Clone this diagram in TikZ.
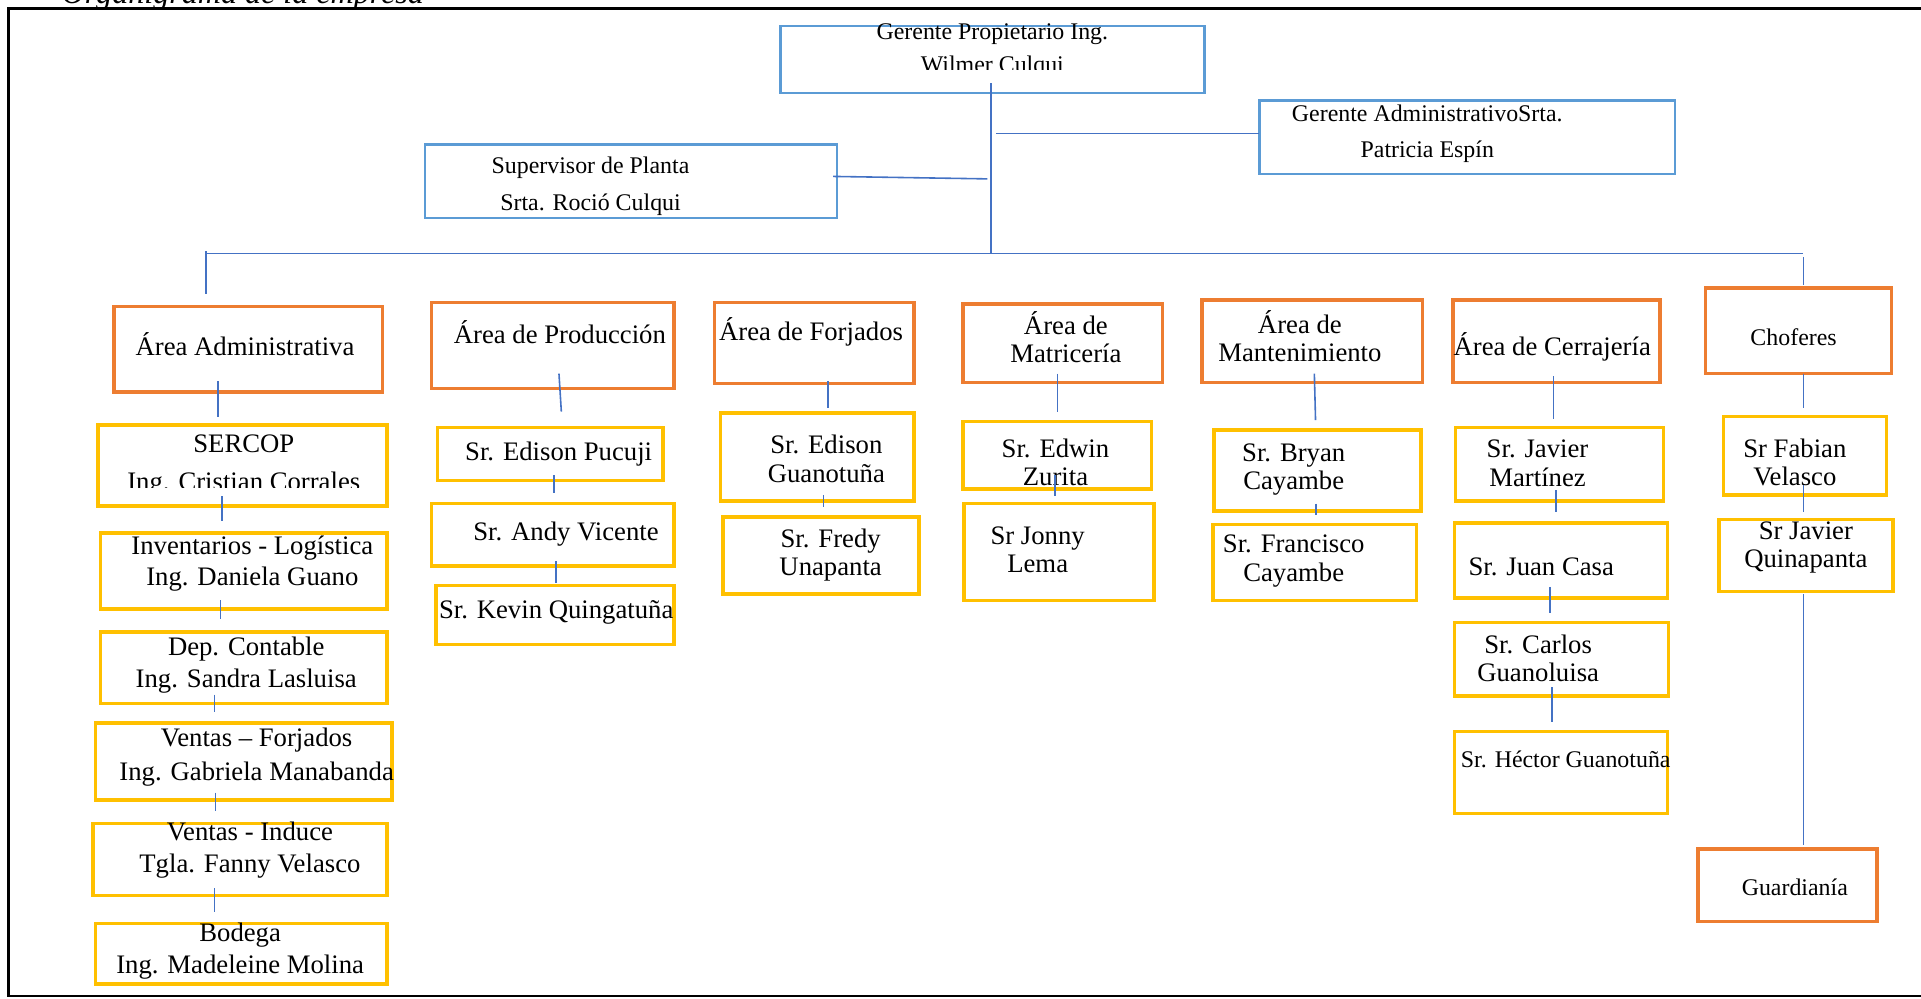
\documentclass[tikz,border=0pt]{standalone}
\usepackage{fontspec}
\setmainfont{Liberation Serif}

\definecolor{azulcaja}{HTML}{5B9BD5}
\definecolor{azullinea}{HTML}{4472C4}
\definecolor{naranja}{HTML}{ED7D31}
\definecolor{amarillo}{HTML}{FFC000}

\tikzset{
	jefe/.style={draw=azulcaja,line width=1pt,inner sep=0pt,outer sep=0pt},
	area/.style={draw=naranja,line width=1.4pt,inner sep=0pt,outer sep=0pt},
	persona/.style={draw=amarillo,line width=1.4pt,inner sep=0pt,outer sep=0pt},
	enlace/.style={draw=azullinea,line width=0.65pt},
	une/.style 2 args={enlace,shorten <=-#1,shorten >=#2},
	txt/.style={font=\fontsize{10.9}{11.5}\selectfont,align=center,inner sep=0pt},
	txtA/.style={font=\fontsize{10.9}{13}\selectfont,align=center,inner sep=0pt},
	txtp/.style={font=\fontsize{9.75}{13.5}\selectfont,align=center,inner sep=0pt}
}

\begin{document}
\begin{tikzpicture}[x=0.5pt,y=-0.5pt]
	\useasboundingbox (0,0) rectangle (1568,815);
	\draw[line width=1pt] (1580,7) -- (7,7) -- (7,813) -- (1580,813);
	\node[anchor=base west,inner sep=0pt,font=\fontsize{13.1}{14}\selectfont\itshape] (titulo) at (50,2.5) {Organigrama de la empresa};
	% cajas de direccion
	\node[jefe,minimum width=173pt,minimum height=27.5pt] (ger) at (810,48.5) {};
	\node[jefe,minimum width=169.5pt,minimum height=30pt] (gadm) at (1197.5,112) {};
	\node[jefe,minimum width=168pt,minimum height=30pt] (sup) at (515,148) {};
	\begin{scope}
		\clip (637,10) rectangle (983,57);
		\node[txtp] (tger) at (810,41) {Gerente Propietario Ing.\\Wilmer Culqui};
	\end{scope}
	\node[txtp,font=\fontsize{9.75}{14.5}\selectfont] (tgadm) at (1165,109) {Gerente AdministrativoSrta.\\Patricia Espín};
	\node[txtp,font=\fontsize{9.75}{15}\selectfont] (tsup) at (482,152) {Supervisor de Planta\\Srta. Roció Culqui};
	% areas
	\node[area,minimum width=109.5pt,minimum height=35pt] (adm) at (202.5,285) {};
	\node[area,minimum width=99pt,minimum height=35pt] (prod) at (451,282) {};
	\node[area,minimum width=81.5pt,minimum height=33pt] (forj) at (664.5,280) {};
	\node[area,minimum width=81.5pt,minimum height=32pt] (matr) at (867.5,280) {};
	\node[area,minimum width=90pt,minimum height=33.5pt] (mant) at (1071,278.5) {};
	\node[area,minimum width=84.5pt,minimum height=33.5pt] (cerr) at (1270.5,278.5) {};
	\node[area,minimum width=76pt,minimum height=35pt] (chof) at (1468,270) {};
	\node[area,minimum width=73pt,minimum height=29.5pt] (guard) at (1459,722.5) {};
	\node[txt] (tadm) at (200,281) {Área Administrativa};
	\node[txt] (tprod) at (457,271) {Área de Producción};
	\node[txt] (tforj) at (662,271) {Área de Forjados};
	\node[txt] (tmatr) at (870,275.5) {Área de\\Matricería};
	\node[txt] (tmant) at (1061,274.5) {Área de\\Mantenimiento};
	\node[txt] (tcerr) at (1267,283) {Área de Cerrajería};
	\node[txtp] (tchof) at (1464,275) {Choferes};
	\node[txtp] (tguard) at (1465,724) {Guardianía};
	% personal
	\node[persona,minimum width=118pt,minimum height=33pt] (sercop) at (198,380) {};
	\node[persona,minimum width=117pt,minimum height=31pt] (inv) at (199,466) {};
	\node[persona,minimum width=117pt,minimum height=29pt] (cont) at (199,545) {};
	\node[persona,minimum width=121pt,minimum height=31.5pt] (vfor) at (199,621.5) {};
	\node[persona,minimum width=120pt,minimum height=29.5pt] (vind) at (196,701.5) {};
	\node[persona,minimum width=119pt,minimum height=24.5pt] (bod) at (197,778.5) {};
	\node[persona,minimum width=92pt,minimum height=21.5pt] (puc) at (449,370.5) {};
	\node[persona,minimum width=99pt,minimum height=25.5pt] (andy) at (451,436.5) {};
	\node[persona,minimum width=97pt,minimum height=24pt] (kev) at (453,502) {};
	\node[persona,minimum width=79pt,minimum height=36pt] (edg) at (667,373) {};
	\node[persona,minimum width=80pt,minimum height=31.5pt] (fre) at (670,453.5) {};
	\node[persona,minimum width=77pt,minimum height=27.5pt] (edw) at (863,371.5) {};
	\node[persona,minimum width=77.5pt,minimum height=39.5pt] (jon) at (864.5,450.5) {};
	\node[persona,minimum width=84.5pt,minimum height=33pt] (bry) at (1075.5,384) {};
	\node[persona,minimum width=83pt,minimum height=31pt] (fra) at (1073,459) {};
	\node[persona,minimum width=85pt,minimum height=30pt] (jav) at (1273,379) {};
	\node[persona,minimum width=87pt,minimum height=30.5pt] (jua) at (1274,457.5) {};
	\node[persona,minimum width=87.5pt,minimum height=30pt] (car) at (1274.5,538) {};
	\node[persona,minimum width=87pt,minimum height=33.5pt] (hec) at (1274,630.5) {};
	\node[persona,minimum width=66.5pt,minimum height=32pt] (fab) at (1473.5,372) {};
	\node[persona,minimum width=71pt,minimum height=29.5pt] (qui) at (1474,453.5) {};
	\begin{scope}
		\clip (80,347) rectangle (316,398);
		\node[txtA,font=\fontsize{10.9}{15.5}\selectfont] (tsercop) at (199,380) {SERCOP\\Ing. Cristian Corrales};
	\end{scope}
	\node[txtA,font=\fontsize{10.9}{12.5}\selectfont] (tinv) at (206,460) {Inventarios - Logística\\Ing. Daniela Guano};
	\node[txtA] (tcont) at (201,543) {Dep. Contable\\Ing. Sandra Lasluisa};
	\node[txtA,font=\fontsize{10.9}{13.5}\selectfont] (tvfor) at (209.5,618) {Ventas -- Forjados\\Ing. Gabriela Manabanda};
	\node[txtA] (tvind) at (204,694) {Ventas - Induce\\Tgla. Fanny Velasco};
	\node[txtA] (tbod) at (196,776) {Bodega\\Ing. Madeleine Molina};
	\node[txt] (tpuc) at (456,371) {Sr. Edison Pucuji};
	\node[txt] (tandy) at (462,436) {Sr. Andy Vicente};
	\node[txt] (tkev) at (454,500) {Sr. Kevin Quingatuña};
	\node[txt] (tedg) at (674.5,374.5) {Sr. Edison\\Guanotuña};
	\node[txt] (tfre) at (678,453) {Sr. Fredy\\Unapanta};
	\node[txt] (tedw) at (861.5,377.5) {Sr. Edwin\\Zurita};
	\node[txt] (tjon) at (847,448.5) {Sr Jonny\\Lema};
	\node[txt] (tbry) at (1056,383.5) {Sr. Bryan\\Cayambe};
	\node[txt] (tfra) at (1056,458) {Sr. Francisco\\Cayambe};
	\node[txt,font=\fontsize{10.9}{12}\selectfont] (tjav) at (1255,378) {Sr. Javier\\Martínez};
	\node[txt] (tjua) at (1258,463) {Sr. Juan Casa};
	\node[txt] (tcar) at (1255.5,537.5) {Sr. Carlos\\Guanoluisa};
	\node[txtp] (thec) at (1278,620) {Sr. Héctor Guanotuña};
	\node[txt] (tfab) at (1465,377.5) {Sr Fabian\\Velasco};
	\node[txt] (tqui) at (1474,447) {Sr Javier\\Quinapanta};
	% lineas superiores
	\coordinate (busL) at (168,207);
	\coordinate (busR) at (1472,207);
	\coordinate (supfin) at (806,146);
	\coordinate (gadmini) at (813,109);
	\draw[enlace] (busL) -- (busR);
	\draw[enlace,shorten <=-4pt] (809,0 |- ger.south) -- (809,0 |- busL);
	\draw[enlace] ([xshift=-1.5pt,yshift=2pt]sup.east) -- (supfin);
	\draw[enlace] (gadmini) -- ([yshift=1.5pt]gadm.west);
	\draw[une={1pt}{5pt}] (busL) -- (busL |- adm.north);
	\draw[une={-1.5pt}{1pt}] (busR) -- (busR |- chof.north);
	% lineas de cada columna
	\draw[une={4.5pt}{3.5pt}] (178,0 |- adm.south) -- (178,0 |- sercop.north);
	\draw[une={4pt}{5pt}] (181,0 |- sercop.south) -- (181,0 |- inv.north);
	\draw[une={3.5pt}{5.5pt}] (180,0 |- inv.south) -- (180,0 |- cont.north);
	\draw[une={3.5pt}{4.5pt}] (175,0 |- cont.south) -- (175,0 |- vfor.north);
	\draw[une={3pt}{5pt}] (176,0 |- vfor.south) -- (176,0 |- vind.north);
	\draw[une={3pt}{5pt}] (175,0 |- vind.south) -- (175,0 |- bod.north);
	\draw[une={6pt}{6.5pt}] (457,0 |- prod.south) -- (459,0 |- puc.north);
	\draw[une={2pt}{4.5pt}] (452,0 |- puc.south) -- (452,0 |- andy.north);
	\draw[une={2pt}{1pt}] (454,0 |- andy.south) -- (454,0 |- kev.north);
	\draw[une={1pt}{2pt}] (676,0 |- forj.south) -- (676,0 |- edg.north);
	\draw[une={2.5pt}{4pt}] (672,0 |- edg.south) -- (672,0 |- fre.north);
	\draw[une={3.5pt}{4pt}] (863,0 |- matr.south) -- (863,0 |- edw.north);
	\draw[une={5.5pt}{3pt}] (861,0 |- edw.south) -- (861,0 |- jon.north);
	\draw[une={3.5pt}{4pt}] (1073,0 |- mant.south) -- (1074,0 |- bry.north);
	\draw[une={3pt}{4pt}] (1074,0 |- bry.south) -- (1074,0 |- fra.north);
	\draw[une={2.5pt}{3.5pt}] (1268,0 |- cerr.south) -- (1268,0 |- jav.north);
	\draw[une={4.5pt}{4.5pt}] (1270,0 |- jav.south) -- (1270,0 |- jua.north);
	\draw[une={4.5pt}{4pt}] (1265,0 |- jua.south) -- (1265,0 |- car.north);
	\draw[une={3.5pt}{4pt}] (1267,0 |- car.south) -- (1267,0 |- hec.north);
	\draw[une={0pt}{3.5pt}] (1472,0 |- chof.south) -- (1472,0 |- fab.north);
	\draw[une={4pt}{3pt}] (1472,0 |- fab.south) -- (1472,0 |- qui.north);
	\draw[une={-1pt}{1.5pt}] (1472,0 |- qui.south) -- (1472,0 |- guard.north);
\end{tikzpicture}
\end{document}
